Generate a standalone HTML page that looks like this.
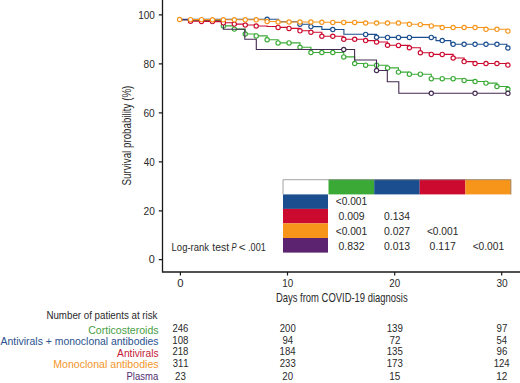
<!DOCTYPE html>
<html><head><meta charset="utf-8"><style>
html,body{margin:0;padding:0;background:#fff;}
svg{display:block;font-family:"Liberation Sans",sans-serif;font-kerning:none;}
</style></head><body>
<svg width="520" height="383" viewBox="0 0 520 383">
<rect width="520" height="383" fill="#fff"/>
<path d="M162.5,0V272.6M161.9,272H520" stroke="#1a1a1a" stroke-width="1.3" fill="none"/>
<path d="M158.8,14.90H162.5M158.8,63.90H162.5M158.8,112.90H162.5M158.8,161.90H162.5M158.8,210.80H162.5M158.8,259.70H162.5M180.40,272V275.6M287.50,272V275.6M394.70,272V275.6M501.70,272V275.6" stroke="#1a1a1a" stroke-width="1.2" fill="none"/>
<text x="138.13" y="18.65" font-size="10.60" fill="#2a2a2a" textLength="16.76" lengthAdjust="spacingAndGlyphs">100</text>
<text x="143.56" y="67.65" font-size="10.60" fill="#2a2a2a" textLength="11.23" lengthAdjust="spacingAndGlyphs">80</text>
<text x="143.48" y="116.65" font-size="10.60" fill="#2a2a2a" textLength="11.31" lengthAdjust="spacingAndGlyphs">60</text>
<text x="143.77" y="165.65" font-size="10.60" fill="#2a2a2a" textLength="11.01" lengthAdjust="spacingAndGlyphs">40</text>
<text x="143.49" y="214.55" font-size="10.60" fill="#2a2a2a" textLength="11.31" lengthAdjust="spacingAndGlyphs">20</text>
<text x="148.78" y="263.45" font-size="10.60" fill="#2a2a2a" textLength="6.05" lengthAdjust="spacingAndGlyphs">0</text>
<text x="177.26" y="287.40" font-size="10.60" fill="#2a2a2a" textLength="6.28" lengthAdjust="spacingAndGlyphs">0</text>
<text x="282.35" y="287.40" font-size="10.60" fill="#2a2a2a" textLength="10.93" lengthAdjust="spacingAndGlyphs">10</text>
<text x="389.31" y="287.40" font-size="10.60" fill="#2a2a2a" textLength="10.87" lengthAdjust="spacingAndGlyphs">20</text>
<text x="496.41" y="287.40" font-size="10.60" fill="#2a2a2a" textLength="11.28" lengthAdjust="spacingAndGlyphs">30</text>
<text transform="translate(131.4,0) rotate(-90)" x="-185.44" y="0" font-size="12.4" fill="#2a2a2a" textLength="99.75" lengthAdjust="spacingAndGlyphs">Survival probability (%)</text>
<text x="275.93" y="301.50" font-size="11.90" fill="#2a2a2a" textLength="131.72" lengthAdjust="spacingAndGlyphs">Days from COVID-19 diagnosis</text>
<path d="M179.60,19.60H190.54V20.50H223.37V25.90H234.31V29.10H245.26V34.00H256.20V35.90H267.14V39.70H278.09V42.90H299.97V47.30H310.92V52.50H343.75V56.90H354.69V63.50H365.63V65.20H387.52V67.90H398.46V72.10H409.40V74.20H431.29V78.70H464.12V80.40H475.06V81.50H486.00V83.10H496.95V86.50H507.89V89.30H507.89" fill="none" stroke="#3aa935" stroke-width="1.1"/>
<g fill="#fff" stroke="#3aa935" stroke-width="1.15"><circle cx="223.37" cy="25.90" r="2.15"/><circle cx="234.31" cy="29.10" r="2.15"/><circle cx="245.26" cy="34.00" r="2.15"/><circle cx="256.20" cy="35.90" r="2.15"/><circle cx="267.14" cy="39.70" r="2.15"/><circle cx="278.09" cy="42.90" r="2.15"/><circle cx="289.03" cy="42.90" r="2.15"/><circle cx="299.97" cy="47.30" r="2.15"/><circle cx="310.92" cy="52.50" r="2.15"/><circle cx="321.86" cy="52.50" r="2.15"/><circle cx="332.80" cy="52.50" r="2.15"/><circle cx="343.75" cy="56.90" r="2.15"/><circle cx="354.69" cy="63.50" r="2.15"/><circle cx="365.63" cy="65.20" r="2.15"/><circle cx="376.57" cy="65.20" r="2.15"/><circle cx="387.52" cy="67.90" r="2.15"/><circle cx="398.46" cy="72.10" r="2.15"/><circle cx="409.40" cy="74.20" r="2.15"/><circle cx="420.35" cy="74.20" r="2.15"/><circle cx="431.29" cy="78.70" r="2.15"/><circle cx="442.23" cy="78.70" r="2.15"/><circle cx="453.17" cy="78.70" r="2.15"/><circle cx="464.12" cy="80.40" r="2.15"/><circle cx="475.06" cy="81.50" r="2.15"/><circle cx="486.00" cy="83.10" r="2.15"/><circle cx="496.95" cy="86.50" r="2.15"/><circle cx="507.89" cy="89.30" r="2.15"/></g>
<path d="M179.60,19.60H190.54V20.30H223.37V29.30H244.80V39.30H256.30V49.50H354.60V60.00H376.50V70.50H387.30V81.70H398.80V93.30H507.89" fill="none" stroke="#432a52" stroke-width="1.1"/>
<g fill="#fff" stroke="#432a52" stroke-width="1.15"><circle cx="343.75" cy="49.50" r="2.15"/><circle cx="376.57" cy="70.50" r="2.15"/><circle cx="431.29" cy="93.30" r="2.15"/><circle cx="475.06" cy="93.30" r="2.15"/><circle cx="507.89" cy="93.30" r="2.15"/></g>
<path d="M179.60,19.80H190.54V21.20H201.49V21.40H212.43V21.60H223.37V22.80H234.31V24.10H245.26V25.00H256.20V26.00H267.14V26.50H278.09V27.40H289.03V28.40H299.97V30.80H310.92V32.20H321.86V36.20H332.80V36.30H343.75V39.30H365.63V40.60H376.57V42.00H387.52V45.30H398.46V45.40H409.40V47.70H420.35V52.80H431.29V54.40H453.17V58.00H464.12V61.60H475.06V63.50H507.89V65.10H507.89" fill="none" stroke="#cc0a2f" stroke-width="1.1"/>
<g fill="#fff" stroke="#cc0a2f" stroke-width="1.15"><circle cx="190.54" cy="21.20" r="2.15"/><circle cx="201.49" cy="21.40" r="2.15"/><circle cx="212.43" cy="21.60" r="2.15"/><circle cx="223.37" cy="22.80" r="2.15"/><circle cx="234.31" cy="24.10" r="2.15"/><circle cx="245.26" cy="25.00" r="2.15"/><circle cx="256.20" cy="26.00" r="2.15"/><circle cx="278.09" cy="27.40" r="2.15"/><circle cx="289.03" cy="28.40" r="2.15"/><circle cx="299.97" cy="30.80" r="2.15"/><circle cx="310.92" cy="32.20" r="2.15"/><circle cx="321.86" cy="36.20" r="2.15"/><circle cx="332.80" cy="36.30" r="2.15"/><circle cx="343.75" cy="39.30" r="2.15"/><circle cx="354.69" cy="39.30" r="2.15"/><circle cx="365.63" cy="40.60" r="2.15"/><circle cx="376.57" cy="42.00" r="2.15"/><circle cx="387.52" cy="45.30" r="2.15"/><circle cx="398.46" cy="45.40" r="2.15"/><circle cx="409.40" cy="47.70" r="2.15"/><circle cx="420.35" cy="52.80" r="2.15"/><circle cx="431.29" cy="54.40" r="2.15"/><circle cx="442.23" cy="54.40" r="2.15"/><circle cx="453.17" cy="58.00" r="2.15"/><circle cx="464.12" cy="61.60" r="2.15"/><circle cx="475.06" cy="63.50" r="2.15"/><circle cx="486.00" cy="63.50" r="2.15"/><circle cx="496.95" cy="63.50" r="2.15"/><circle cx="507.89" cy="65.10" r="2.15"/></g>
<path d="M179.60,19.30H278.40V21.80H299.97V24.20H310.92V26.60H321.86V29.40H332.80V29.50H343.90V34.20H365.63V34.40H376.57V37.30H387.52V37.40H436.00V40.60H450.80V44.20H506.80V48.00H507.89" fill="none" stroke="#1a4e8e" stroke-width="1.1"/>
<g fill="#fff" stroke="#1a4e8e" stroke-width="1.15"><circle cx="267.14" cy="19.30" r="2.15"/><circle cx="299.97" cy="24.20" r="2.15"/><circle cx="310.92" cy="26.60" r="2.15"/><circle cx="332.80" cy="29.50" r="2.15"/><circle cx="365.63" cy="34.40" r="2.15"/><circle cx="376.57" cy="37.30" r="2.15"/><circle cx="387.52" cy="37.40" r="2.15"/><circle cx="398.46" cy="37.40" r="2.15"/><circle cx="409.40" cy="37.40" r="2.15"/><circle cx="431.29" cy="37.40" r="2.15"/><circle cx="442.23" cy="40.60" r="2.15"/><circle cx="453.17" cy="44.20" r="2.15"/><circle cx="464.12" cy="44.20" r="2.15"/><circle cx="475.06" cy="44.20" r="2.15"/><circle cx="486.00" cy="44.20" r="2.15"/><circle cx="496.95" cy="44.20" r="2.15"/><circle cx="507.89" cy="48.00" r="2.15"/></g>
<path d="M190.54,19.50V19.60H212.43V19.70H223.37V19.80H267.14V21.50H278.09V22.00H321.86V22.20H332.80V22.40H365.63V23.00H409.40V24.30H420.35V24.60H431.29V25.90H442.23V27.50H486.00V29.30H507.89V31.10H507.89" fill="none" stroke="#f6951a" stroke-width="1.1"/>
<g fill="#fff" stroke="#f6951a" stroke-width="1.15"><circle cx="179.60" cy="19.50" r="2.15"/><circle cx="190.54" cy="19.60" r="2.15"/><circle cx="201.49" cy="19.60" r="2.15"/><circle cx="212.43" cy="19.70" r="2.15"/><circle cx="223.37" cy="19.80" r="2.15"/><circle cx="234.31" cy="19.80" r="2.15"/><circle cx="245.26" cy="19.80" r="2.15"/><circle cx="256.20" cy="19.80" r="2.15"/><circle cx="267.14" cy="21.50" r="2.15"/><circle cx="278.09" cy="22.00" r="2.15"/><circle cx="289.03" cy="22.00" r="2.15"/><circle cx="299.97" cy="22.00" r="2.15"/><circle cx="310.92" cy="22.00" r="2.15"/><circle cx="321.86" cy="22.20" r="2.15"/><circle cx="332.80" cy="22.40" r="2.15"/><circle cx="343.75" cy="22.40" r="2.15"/><circle cx="354.69" cy="22.40" r="2.15"/><circle cx="365.63" cy="23.00" r="2.15"/><circle cx="376.57" cy="23.00" r="2.15"/><circle cx="387.52" cy="23.00" r="2.15"/><circle cx="398.46" cy="23.00" r="2.15"/><circle cx="409.40" cy="24.30" r="2.15"/><circle cx="420.35" cy="24.60" r="2.15"/><circle cx="431.29" cy="25.90" r="2.15"/><circle cx="442.23" cy="27.50" r="2.15"/><circle cx="453.17" cy="27.50" r="2.15"/><circle cx="464.12" cy="27.50" r="2.15"/><circle cx="475.06" cy="27.50" r="2.15"/><circle cx="486.00" cy="29.30" r="2.15"/><circle cx="496.95" cy="29.30" r="2.15"/><circle cx="507.89" cy="31.10" r="2.15"/></g>
<rect x="328.50" y="179.30" width="45.70" height="15.10" fill="#3aa935"/>
<rect x="374.20" y="179.30" width="45.50" height="15.10" fill="#1a4e8e"/>
<rect x="419.70" y="179.30" width="45.70" height="15.10" fill="#cc0a2f"/>
<rect x="465.40" y="179.30" width="45.80" height="15.10" fill="#f6951a"/>
<rect x="283.00" y="194.40" width="45.00" height="14.50" fill="#1a4e8e"/>
<rect x="283.00" y="208.90" width="45.00" height="14.50" fill="#cc0a2f"/>
<rect x="283.00" y="223.40" width="45.00" height="14.60" fill="#f6951a"/>
<rect x="283.00" y="238.00" width="45.00" height="14.60" fill="#5c2470"/>
<path d="M283.00,194.40V179.70H510.80V194.40" fill="none" stroke="#8c8c8c" stroke-width="0.8"/>
<text x="335.70" y="205.10" font-size="10.10" fill="#2a2a2a" textLength="31.50" lengthAdjust="spacingAndGlyphs">&lt;0.001</text>
<text x="338.44" y="219.50" font-size="10.10" fill="#2a2a2a" textLength="26.10" lengthAdjust="spacingAndGlyphs">0.009</text>
<text x="384.05" y="219.50" font-size="10.10" fill="#2a2a2a" textLength="25.91" lengthAdjust="spacingAndGlyphs">0.134</text>
<text x="335.70" y="234.70" font-size="10.10" fill="#2a2a2a" textLength="31.50" lengthAdjust="spacingAndGlyphs">&lt;0.001</text>
<text x="384.04" y="234.70" font-size="10.10" fill="#2a2a2a" textLength="26.13" lengthAdjust="spacingAndGlyphs">0.027</text>
<text x="426.90" y="234.70" font-size="10.10" fill="#2a2a2a" textLength="31.50" lengthAdjust="spacingAndGlyphs">&lt;0.001</text>
<text x="338.44" y="250.20" font-size="10.10" fill="#2a2a2a" textLength="26.13" lengthAdjust="spacingAndGlyphs">0.832</text>
<text x="384.04" y="250.20" font-size="10.10" fill="#2a2a2a" textLength="26.06" lengthAdjust="spacingAndGlyphs">0.013</text>
<text x="429.64" y="250.20" font-size="10.10" fill="#2a2a2a" textLength="26.13" lengthAdjust="spacingAndGlyphs">0.117</text>
<text x="472.65" y="250.20" font-size="10.10" fill="#2a2a2a" textLength="31.50" lengthAdjust="spacingAndGlyphs">&lt;0.001</text>
<text x="171.62" y="250.50" font-size="10.60" fill="#2a2a2a" textLength="37.36" lengthAdjust="spacingAndGlyphs">Log-rank</text>
<text x="212.24" y="250.50" font-size="10.60" fill="#2a2a2a" textLength="16.83" lengthAdjust="spacingAndGlyphs">test</text>
<text x="231.57" y="250.50" font-size="10.60" fill="#2a2a2a" textLength="5.08" lengthAdjust="spacingAndGlyphs" font-style="italic">P</text>
<text x="238.82" y="250.50" font-size="10.60" fill="#2a2a2a" textLength="6.85" lengthAdjust="spacingAndGlyphs">&lt;</text>
<text x="248.07" y="250.50" font-size="10.60" fill="#2a2a2a" textLength="17.67" lengthAdjust="spacingAndGlyphs">.001</text>
<text x="46.40" y="318.50" font-size="10.00" fill="#2a2a2a" textLength="111.09" lengthAdjust="spacingAndGlyphs">Number of patients at risk</text>
<text x="88.26" y="334.00" font-size="10.30" fill="#47a044" textLength="70.32" lengthAdjust="spacingAndGlyphs">Corticosteroids</text>
<text x="0.58" y="345.20" font-size="10.30" fill="#2a5290" textLength="158.00" lengthAdjust="spacingAndGlyphs">Antivirals + monoclonal antibodies</text>
<text x="117.08" y="357.10" font-size="10.30" fill="#c41836" textLength="41.49" lengthAdjust="spacingAndGlyphs">Antivirals</text>
<text x="53.23" y="368.20" font-size="10.30" fill="#f2962a" textLength="105.35" lengthAdjust="spacingAndGlyphs">Monoclonal antibodies</text>
<text x="126.52" y="379.80" font-size="10.30" fill="#532d70" textLength="31.68" lengthAdjust="spacingAndGlyphs">Plasma</text>
<text x="172.52" y="332.30" font-size="10.10" fill="#2a2a2a" textLength="15.90" lengthAdjust="spacingAndGlyphs">246</text>
<text x="279.82" y="332.30" font-size="10.10" fill="#2a2a2a" textLength="15.85" lengthAdjust="spacingAndGlyphs">200</text>
<text x="386.66" y="332.30" font-size="10.10" fill="#2a2a2a" textLength="16.20" lengthAdjust="spacingAndGlyphs">139</text>
<text x="496.49" y="332.30" font-size="10.10" fill="#2a2a2a" textLength="10.85" lengthAdjust="spacingAndGlyphs">97</text>
<text x="172.26" y="343.60" font-size="10.10" fill="#2a2a2a" textLength="16.16" lengthAdjust="spacingAndGlyphs">108</text>
<text x="282.40" y="343.60" font-size="10.10" fill="#2a2a2a" textLength="10.63" lengthAdjust="spacingAndGlyphs">94</text>
<text x="389.45" y="343.60" font-size="10.10" fill="#2a2a2a" textLength="10.89" lengthAdjust="spacingAndGlyphs">72</text>
<text x="496.57" y="343.60" font-size="10.10" fill="#2a2a2a" textLength="10.56" lengthAdjust="spacingAndGlyphs">54</text>
<text x="172.52" y="355.30" font-size="10.10" fill="#2a2a2a" textLength="15.89" lengthAdjust="spacingAndGlyphs">218</text>
<text x="279.57" y="355.30" font-size="10.10" fill="#2a2a2a" textLength="16.01" lengthAdjust="spacingAndGlyphs">184</text>
<text x="386.66" y="355.30" font-size="10.10" fill="#2a2a2a" textLength="16.14" lengthAdjust="spacingAndGlyphs">135</text>
<text x="496.50" y="355.30" font-size="10.10" fill="#2a2a2a" textLength="10.78" lengthAdjust="spacingAndGlyphs">96</text>
<text x="172.64" y="367.00" font-size="10.10" fill="#2a2a2a" textLength="15.82" lengthAdjust="spacingAndGlyphs">311</text>
<text x="279.82" y="367.00" font-size="10.10" fill="#2a2a2a" textLength="15.90" lengthAdjust="spacingAndGlyphs">233</text>
<text x="386.66" y="367.00" font-size="10.10" fill="#2a2a2a" textLength="16.16" lengthAdjust="spacingAndGlyphs">173</text>
<text x="493.67" y="367.00" font-size="10.10" fill="#2a2a2a" textLength="16.01" lengthAdjust="spacingAndGlyphs">124</text>
<text x="175.06" y="379.60" font-size="10.10" fill="#2a2a2a" textLength="10.82" lengthAdjust="spacingAndGlyphs">23</text>
<text x="282.36" y="379.60" font-size="10.10" fill="#2a2a2a" textLength="10.76" lengthAdjust="spacingAndGlyphs">20</text>
<text x="389.19" y="379.60" font-size="10.10" fill="#2a2a2a" textLength="11.08" lengthAdjust="spacingAndGlyphs">15</text>
<text x="496.19" y="379.60" font-size="10.10" fill="#2a2a2a" textLength="11.17" lengthAdjust="spacingAndGlyphs">12</text>
</svg>
</body></html>
